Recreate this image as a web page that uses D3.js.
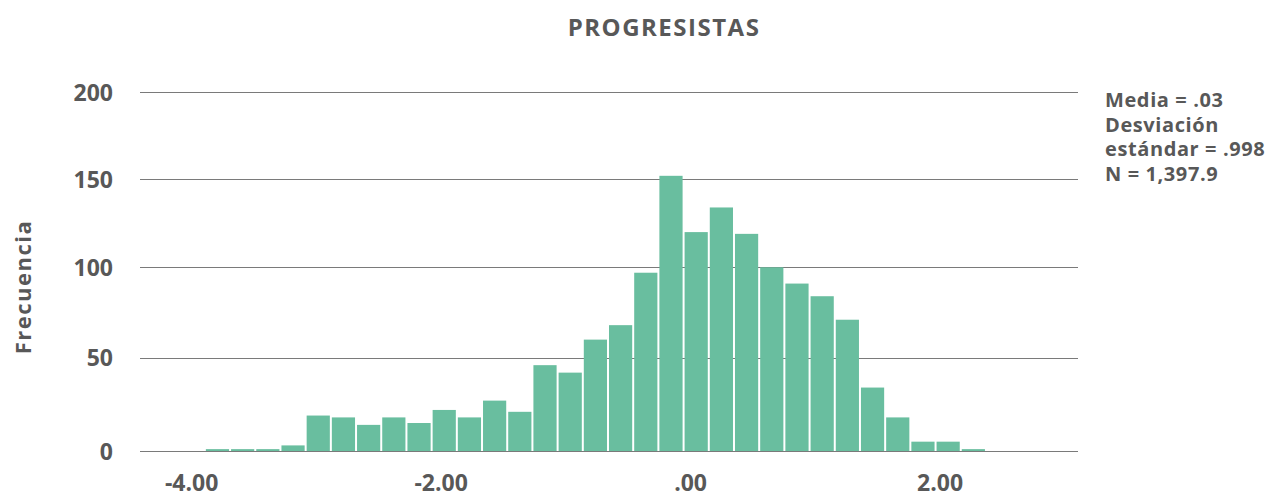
<!DOCTYPE html>
<html>
<head>
<meta charset="utf-8">
<script src="https://cdn.jsdelivr.net/npm/d3@7"></script>
<style>
  body { margin: 0; background: #fff; }
  text { font-family: "Open Sans", sans-serif; font-weight: 700; fill: #585858; }
</style>
</head>
<body>
<svg width="1280" height="497"></svg>
<script>
// Histogram data.

var title = 'PROGRESISTAS';
var yLabel = 'Frecuencia';
var binStart = -3.89;
var binWidth = 0.202;
var counts = [1, 1, 1, 3, 19, 18, 14, 18, 15, 22, 18, 27, 21, 46, 42, 60, 68, 97, 152, 120, 134, 119, 100, 91, 84, 71, 34, 18, 5, 5, 1];
var xTicks = [-4, -2, 0, 2];
var yTicks = [0, 50, 100, 150, 200];
var stats = ['Media = .03', 'Desviación', 'estándar = .998', 'N = 1,397.9'];

var svg = d3.select('svg');
var margin = {top:92, right:202, bottom:46, left:140};
var width = svg.attr('width') - margin.left - margin.right;
var height = svg.attr('height') - margin.top - margin.bottom;
var graphic = svg.append('g').attr('transform', 'translate(' + margin.left + ',' + margin.top + ')');

var bins = counts.map(function(c, i) {
  return {x0: binStart + i * binWidth, x1: binStart + (i + 1) * binWidth, n: c};
});

var x = d3.scaleLinear().domain([-4.41, 3.11]).range([0, width]);

// the source chart's gridlines are not quite evenly spaced, so the y scale is piecewise
var y = d3.scaleLinear().domain(yTicks).range([height, height - 93.3, height - 183.7, height - 271.7, 0]);

// Grid lines.

graphic.append('g')
 .selectAll('line')
 .data(yTicks)
 .enter().append('line')
 .attr('x1', 0)
 .attr('x2', width)
 .attr('y1', function(d) { return Math.round(y(d)) + 0.5; })
 .attr('y2', function(d) { return Math.round(y(d)) + 0.5; })
 .attr('stroke', '#7a7a7a')
 .attr('stroke-width', 1);

// Bars.

var barPadding = 1;

graphic.append('g')
 .selectAll('rect')
 .data(bins)
 .enter().append('rect')
 .attr('x', function(d) { return x(d.x0) + barPadding; })
 .attr('y', function(d) { return y(d.n); })
 .attr('width', function(d) { return x(d.x1) - x(d.x0) - 2 * barPadding; })
 .attr('height', function(d) { return y(0) - y(d.n); })
 .attr('fill', '#69be9f');

// Axes labels.

var yAxis = graphic.append('g')
 .call(d3.axisLeft(y).tickValues(yTicks).tickSize(0).tickPadding(27).tickFormat(d3.format('d')));
yAxis.select('.domain').remove();
yAxis.selectAll('text').attr('font-size', 23).attr('fill', '#585858').attr('font-family', null).attr('dy', '0.35em');

var xAxis = graphic.append('g')
 .attr('transform', 'translate(0,' + height + ')')
 .call(d3.axisBottom(x).tickValues(xTicks).tickSize(0).tickPadding(24)
  .tickFormat(function(d) { return d === 0 ? '.00' : d3.format('.2f')(d).replace('−', '-'); }));
xAxis.select('.domain').remove();
xAxis.selectAll('text').attr('font-size', 23).attr('fill', '#585858').attr('font-family', null);

// Title, y label and stats box.

svg.append('text')
 .attr('x', 664)
 .attr('y', 36)
 .attr('text-anchor', 'middle')
 .attr('font-size', 24)
 .attr('letter-spacing', 1.5)
 .text(title);

svg.append('text')
 .attr('transform', 'translate(31,287) rotate(-90)')
 .attr('text-anchor', 'middle')
 .attr('font-size', 22)
 .attr('letter-spacing', 1.5)
 .text(yLabel);

svg.append('g')
 .selectAll('text')
 .data(stats)
 .enter().append('text')
 .attr('x', 1105)
 .attr('y', function(d, i) { return 107 + i * 24.5; })
 .attr('font-size', 20)
 .attr('letter-spacing', 0.6)
 .text(function(d) { return d; });
</script>
</body>
</html>
